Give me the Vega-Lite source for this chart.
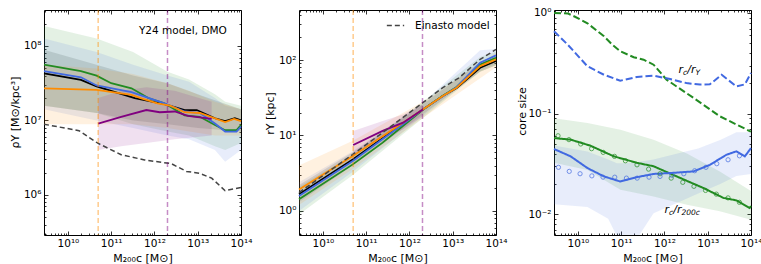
{
 "$schema": "https://vega.github.io/schema/vega-lite/v6.json",
 "padding": {"left": 8, "top": 7, "right": 0, "bottom": 0},
 "bounds": "flush",
 "spacing": 58,
 "resolve": {"scale": {"color": "independent", "strokeDash": "independent"}, "legend": {"color": "independent", "strokeDash": "independent"}},
 "config": {
  "font": "DejaVu Sans",
  "view": {"stroke": "black", "strokeWidth": 1},
  "axis": {"tickColor": "black", "labelColor": "black", "titleColor": "black", "titleFontWeight": "normal", "labelFontSize": 10.5, "titleFontSize": 11, "grid": false, "domain": false, "labelOverlap": false, "labelFlush": false, "tickWidth": 0.8, "labelBound": false}
 },
 "datasets": {
  "p1bands": [
   {"s":"black","M":2.8e9,"lo":1.58e7,"hi":8.9e7},{"s":"black","M":4.6e10,"lo":1.26e7,"hi":5.6e7},{"s":"black","M":3.2e11,"lo":1.0e7,"hi":4.0e7},{"s":"black","M":2e12,"lo":8.9e6,"hi":3.16e7},{"s":"black","M":1e13,"lo":7.9e6,"hi":2.24e7},{"s":"black","M":1e14,"lo":7.1e6,"hi":1.41e7},
   {"s":"green","M":2.8e9,"lo":1.58e7,"hi":1.86e8},{"s":"green","M":4.6e10,"lo":1.26e7,"hi":1.26e8},{"s":"green","M":3.2e11,"lo":8.9e6,"hi":8.3e7},{"s":"green","M":2e12,"lo":7.1e6,"hi":4.5e7},{"s":"green","M":6.3e12,"lo":6.3e6,"hi":3.55e7},{"s":"green","M":2.5e13,"lo":4.5e6,"hi":2.24e7},{"s":"green","M":4.3e13,"lo":4.0e6,"hi":1.78e7},{"s":"green","M":1e14,"lo":5.0e6,"hi":1.58e7},
   {"s":"blue","M":2.8e9,"lo":1.41e7,"hi":1.26e8},{"s":"blue","M":4.6e10,"lo":1.0e7,"hi":8.3e7},{"s":"blue","M":3.2e11,"lo":7.9e6,"hi":5.6e7},{"s":"blue","M":2e12,"lo":6.3e6,"hi":4.0e7},{"s":"blue","M":6.3e12,"lo":5.6e6,"hi":3.3e7},{"s":"blue","M":2.5e13,"lo":4.0e6,"hi":2.0e7},{"s":"blue","M":4.3e13,"lo":2.8e6,"hi":1.58e7},{"s":"blue","M":1e14,"lo":4.0e6,"hi":1.41e7},
   {"s":"orange","M":2.8e9,"lo":8.9e6,"hi":5.6e7},{"s":"orange","M":4.6e10,"lo":8.9e6,"hi":5.0e7},{"s":"orange","M":3.2e11,"lo":8.9e6,"hi":4.2e7},{"s":"orange","M":2e12,"lo":7.9e6,"hi":3.16e7},{"s":"orange","M":6.3e12,"lo":7.1e6,"hi":2.5e7},{"s":"orange","M":2.5e13,"lo":6.3e6,"hi":1.78e7},{"s":"orange","M":1e14,"lo":6.3e6,"hi":1.41e7},
   {"s":"purple","M":5e10,"lo":4.0e6,"hi":2.0e7},{"s":"purple","M":1.7e11,"lo":4.5e6,"hi":2.5e7},{"s":"purple","M":6.5e11,"lo":5.0e6,"hi":2.8e7},{"s":"purple","M":2.95e12,"lo":5.6e6,"hi":2.5e7},{"s":"purple","M":2.1e13,"lo":6.3e6,"hi":1.78e7}
  ],
  "p1lines": [
   {"s":"black","M":2.8e9,"v":4.3e7},{"s":"black","M":2e10,"v":3.5e7},{"s":"black","M":4.6e10,"v":2.86e7},{"s":"black","M":1e11,"v":2.5e7},{"s":"black","M":3.5e11,"v":2.0e7},{"s":"black","M":1.7e12,"v":1.66e7},{"s":"black","M":5e12,"v":1.38e7},{"s":"black","M":9.5e12,"v":1.38e7},{"s":"black","M":2.5e13,"v":1.07e7},{"s":"black","M":4.3e13,"v":9.8e6},{"s":"black","M":7.2e13,"v":1.07e7},{"s":"black","M":1e14,"v":1.0e7},
   {"s":"green","M":2.8e9,"v":5.6e7},{"s":"green","M":2e10,"v":4.6e7},{"s":"green","M":4.6e10,"v":4.0e7},{"s":"green","M":1e11,"v":3.16e7},{"s":"green","M":2.95e11,"v":2.7e7},{"s":"green","M":7.2e11,"v":2.0e7},{"s":"green","M":1.7e12,"v":1.7e7},{"s":"green","M":5e12,"v":1.17e7},{"s":"green","M":1.12e13,"v":1.12e7},{"s":"green","M":2.5e13,"v":8.7e6},{"s":"green","M":4.3e13,"v":7.4e6},{"s":"green","M":7.9e13,"v":7.4e6},{"s":"green","M":1e14,"v":8.7e6},
   {"s":"blue","M":2.8e9,"v":4.6e7},{"s":"blue","M":2e10,"v":3.8e7},{"s":"blue","M":4.6e10,"v":2.95e7},{"s":"blue","M":2.95e11,"v":2.4e7},{"s":"blue","M":1.7e12,"v":1.7e7},{"s":"blue","M":5e12,"v":1.32e7},{"s":"blue","M":1.12e13,"v":1.26e7},{"s":"blue","M":2.5e13,"v":9.1e6},{"s":"blue","M":4.3e13,"v":7.1e6},{"s":"blue","M":7.9e13,"v":7.1e6},{"s":"blue","M":1e14,"v":8.3e6},
   {"s":"orange","M":2.8e9,"v":2.7e7},{"s":"orange","M":4.6e10,"v":2.57e7},{"s":"orange","M":2.95e11,"v":2.2e7},{"s":"orange","M":4.8e11,"v":2.0e7},{"s":"orange","M":1.17e12,"v":1.7e7},{"s":"orange","M":2.3e12,"v":1.58e7},{"s":"orange","M":5e12,"v":1.29e7},{"s":"orange","M":1.12e13,"v":1.26e7},{"s":"orange","M":4.3e13,"v":9.5e6},{"s":"orange","M":6.9e13,"v":1.05e7},{"s":"orange","M":1e14,"v":9.8e6}
  ],
  "p1purple": [
   {"M":5e10,"v":9.1e6},{"M":1.7e11,"v":1.12e7},{"M":6.5e11,"v":1.38e7},{"M":1.32e12,"v":1.29e7},{"M":2.95e12,"v":1.32e7},{"M":5.9e12,"v":1.15e7},{"M":2.1e13,"v":1.05e7}
  ],
  "p1gray": [
   {"M":2.8e9,"v":8.9e6},{"M":1.8e10,"v":7.3e6},{"M":4.9e10,"v":4.95e6},{"M":1.7e11,"v":3.47e6},{"M":5.9e11,"v":2.95e6},{"M":2.45e12,"v":2.63e6},{"M":5.5e12,"v":2.07e6},{"M":1.12e13,"v":1.95e6},{"M":2.1e13,"v":1.68e6},{"M":4.3e13,"v":1.14e6},{"M":1e14,"v":1.26e6}
  ],
  "vlines": [{"s":"orange","M":5e10},{"s":"purple","M":2e12}],
  "p2bands": [
   {"s":"black","M":2.8e9,"lo":1.3,"hi":2.2},{"s":"black","M":4.9e10,"lo":4.0,"hi":6.0},{"s":"black","M":2.04e12,"lo":19,"hi":26},{"s":"black","M":4.3e13,"lo":70,"hi":95},{"s":"black","M":1e14,"lo":85,"hi":115},
   {"s":"green","M":2.8e9,"lo":0.9,"hi":2.1},{"s":"green","M":4.9e10,"lo":3.0,"hi":5.6},{"s":"green","M":2.04e12,"lo":17,"hi":28},{"s":"green","M":4.3e13,"lo":70,"hi":110},{"s":"green","M":1e14,"lo":85,"hi":130},
   {"s":"blue","M":2.8e9,"lo":1.0,"hi":2.4},{"s":"blue","M":4.9e10,"lo":3.3,"hi":6.2},{"s":"blue","M":2.04e12,"lo":18,"hi":27},{"s":"blue","M":4.3e13,"lo":72,"hi":135},{"s":"blue","M":1e14,"lo":90,"hi":140},
   {"s":"orange","M":2.8e9,"lo":1.2,"hi":4.0},{"s":"orange","M":4.9e10,"lo":3.6,"hi":8.5},{"s":"orange","M":2.04e12,"lo":17,"hi":28},{"s":"orange","M":1e14,"lo":80,"hi":125},
   {"s":"purple","M":5e10,"lo":5.5,"hi":11.5},{"s":"purple","M":2.4e11,"lo":9,"hi":15.5},{"s":"purple","M":7.1e11,"lo":12,"hi":19},{"s":"purple","M":2.04e12,"lo":18,"hi":26}
  ],
  "p2lines": [
   {"s":"black","M":2.8e9,"v":1.66},{"s":"black","M":4.9e10,"v":4.79},{"s":"black","M":2.04e12,"v":22.1},{"s":"black","M":5.9e12,"v":33.3},{"s":"black","M":1.23e13,"v":42.7},{"s":"black","M":4.3e13,"v":79},{"s":"black","M":1e14,"v":97},
   {"s":"green","M":2.8e9,"v":1.43},{"s":"green","M":4.9e10,"v":4.14},{"s":"green","M":2.4e11,"v":8.04},{"s":"green","M":2.04e12,"v":21.9},{"s":"green","M":5.9e12,"v":33.5},{"s":"green","M":1.23e13,"v":44},{"s":"green","M":4.3e13,"v":87},{"s":"green","M":1e14,"v":107},
   {"s":"blue","M":2.8e9,"v":1.58},{"s":"blue","M":4.9e10,"v":4.59},{"s":"blue","M":2.04e12,"v":22.1},{"s":"blue","M":5.9e12,"v":33},{"s":"blue","M":1.23e13,"v":43.6},{"s":"blue","M":4.3e13,"v":92},{"s":"blue","M":1e14,"v":115},
   {"s":"orange","M":2.8e9,"v":1.93},{"s":"orange","M":4.9e10,"v":5.35},{"s":"orange","M":2.04e12,"v":22.1},{"s":"orange","M":5.9e12,"v":33.3},{"s":"orange","M":1.23e13,"v":43},{"s":"orange","M":4.3e13,"v":83},{"s":"orange","M":1e14,"v":102}
  ],
  "p2purple": [
   {"M":5e10,"v":7.48},{"M":2.4e11,"v":11.5},{"M":7.1e11,"v":14.8},{"M":2.04e12,"v":22.1}
  ],
  "p2gray": [
   {"M":2.8e9,"v":1.75},{"M":4.9e10,"v":5.62},{"M":2.4e11,"v":10.9},{"M":2.04e12,"v":27.2},{"M":5.9e12,"v":43},{"M":1.4e13,"v":58.2},{"M":4.3e13,"v":102},{"M":1e14,"v":138}
  ],
  "p3bands": [
   {"s":"green","M":2.8e9,"lo":0.0324,"hi":0.09},{"s":"green","M":1.66e10,"lo":0.0275,"hi":0.0805},{"s":"green","M":9.6e10,"lo":0.0175,"hi":0.069},{"s":"green","M":5.6e11,"lo":0.015,"hi":0.055},{"s":"green","M":3.3e12,"lo":0.0124,"hi":0.04},{"s":"green","M":1.9e13,"lo":0.0107,"hi":0.0266},{"s":"green","M":1e14,"lo":0.0088,"hi":0.017},
   {"s":"blue","M":2.8e9,"lo":0.0125,"hi":0.048},{"s":"blue","M":1.66e10,"lo":0.0118,"hi":0.042},{"s":"blue","M":5e10,"lo":0.009,"hi":0.035},{"s":"blue","M":8e10,"lo":0.006,"hi":0.032},{"s":"blue","M":1.2e11,"lo":0.005,"hi":0.032},{"s":"blue","M":2.5e11,"lo":0.006,"hi":0.033},{"s":"blue","M":5.6e11,"lo":0.0102,"hi":0.035},{"s":"blue","M":2e12,"lo":0.013,"hi":0.04},{"s":"blue","M":6e12,"lo":0.016,"hi":0.045},{"s":"blue","M":2e13,"lo":0.02,"hi":0.055},{"s":"blue","M":4.6e13,"lo":0.024,"hi":0.065},{"s":"blue","M":1e14,"lo":0.025,"hi":0.065}
  ],
  "p3lines": [
   {"s":"green","k":"rY","M":2.8e9,"v":1.0},{"s":"green","k":"rY","M":5.8e9,"v":0.99},{"s":"green","k":"rY","M":8.1e9,"v":0.927},{"s":"green","k":"rY","M":1.66e10,"v":0.79},{"s":"green","k":"rY","M":4e10,"v":0.586},{"s":"green","k":"rY","M":6.2e10,"v":0.484},{"s":"green","k":"rY","M":9.5e10,"v":0.416},{"s":"green","k":"rY","M":1.95e11,"v":0.363},{"s":"green","k":"rY","M":3.3e11,"v":0.343},{"s":"green","k":"rY","M":5.6e11,"v":0.306},{"s":"green","k":"rY","M":1.12e12,"v":0.217},{"s":"green","k":"rY","M":4.7e12,"v":0.143},{"s":"green","k":"rY","M":1.9e13,"v":0.094},{"s":"green","k":"rY","M":9.3e13,"v":0.067},{"s":"green","k":"rY","M":1e14,"v":0.066},
   {"s":"blue","k":"rY","M":2.8e9,"v":0.658},{"s":"blue","k":"rY","M":5.8e9,"v":0.484},{"s":"blue","k":"rY","M":1.66e10,"v":0.295},{"s":"blue","k":"rY","M":4e10,"v":0.243},{"s":"blue","k":"rY","M":9.5e10,"v":0.212},{"s":"blue","k":"rY","M":2.3e11,"v":0.231},{"s":"blue","k":"rY","M":5.6e11,"v":0.238},{"s":"blue","k":"rY","M":1.35e12,"v":0.22},{"s":"blue","k":"rY","M":3.2e12,"v":0.201},{"s":"blue","k":"rY","M":6.6e12,"v":0.194},{"s":"blue","k":"rY","M":1.12e13,"v":0.195},{"s":"blue","k":"rY","M":2.1e13,"v":0.243},{"s":"blue","k":"rY","M":4.6e13,"v":0.186},{"s":"blue","k":"rY","M":7.2e13,"v":0.195},{"s":"blue","k":"rY","M":1e14,"v":0.253},
   {"s":"green","k":"r200","M":2.8e9,"v":0.057},{"s":"green","k":"r200","M":6.8e9,"v":0.055},{"s":"green","k":"r200","M":1.95e10,"v":0.0479},{"s":"green","k":"r200","M":6.8e10,"v":0.0375},{"s":"green","k":"r200","M":2.3e11,"v":0.0324},{"s":"green","k":"r200","M":5.6e11,"v":0.0299},{"s":"green","k":"r200","M":2.3e12,"v":0.0229},{"s":"green","k":"r200","M":7.9e12,"v":0.0182},{"s":"green","k":"r200","M":2.3e13,"v":0.0145},{"s":"green","k":"r200","M":4.6e13,"v":0.0137},{"s":"green","k":"r200","M":9.3e13,"v":0.0115},{"s":"green","k":"r200","M":1e14,"v":0.012},
   {"s":"blue","k":"r200","M":2.8e9,"v":0.0444},{"s":"blue","k":"r200","M":6.8e9,"v":0.0375},{"s":"blue","k":"r200","M":1.66e10,"v":0.0287},{"s":"blue","k":"r200","M":4e10,"v":0.0237},{"s":"blue","k":"r200","M":9.5e10,"v":0.0211},{"s":"blue","k":"r200","M":2.3e11,"v":0.0233},{"s":"blue","k":"r200","M":5.6e11,"v":0.0251},{"s":"blue","k":"r200","M":1.35e12,"v":0.0256},{"s":"blue","k":"r200","M":4.7e12,"v":0.0266},{"s":"blue","k":"r200","M":1.12e13,"v":0.0309},{"s":"blue","k":"r200","M":2.7e13,"v":0.0389},{"s":"blue","k":"r200","M":4.6e13,"v":0.0421},{"s":"blue","k":"r200","M":7.2e13,"v":0.0375},{"s":"blue","k":"r200","M":1e14,"v":0.0454}
  ],
  "p3green": [
   {"M":3.47e9,"v":0.0601},{"M":6.2e9,"v":0.055},{"M":1.16e10,"v":0.0498},{"M":2.07e10,"v":0.0447},{"M":3.84e10,"v":0.0411},{"M":7.0e10,"v":0.0375},{"M":1.25e11,"v":0.0339},{"M":2.32e11,"v":0.0309},{"M":4.3e11,"v":0.028},{"M":7.9e11,"v":0.0252},{"M":1.43e12,"v":0.0228},{"M":2.65e12,"v":0.0207},{"M":4.8e12,"v":0.0189},{"M":8.9e12,"v":0.0172},{"M":1.58e13,"v":0.0158},{"M":2.95e13,"v":0.0145},{"M":5.4e13,"v":0.0131}
  ],
  "p3blue": [
   {"M":3.55e9,"v":0.0292},{"M":6.3e9,"v":0.0266},{"M":1.12e10,"v":0.0252},{"M":2.1e10,"v":0.024},{"M":3.8e10,"v":0.0233},{"M":7.1e10,"v":0.0233},{"M":1.32e11,"v":0.0228},{"M":2.34e11,"v":0.0228},{"M":4.4e11,"v":0.0233},{"M":7.9e11,"v":0.0237},{"M":1.48e12,"v":0.0243},{"M":2.8e12,"v":0.0252},{"M":5.0e12,"v":0.027},{"M":9.1e12,"v":0.0292},{"M":1.62e13,"v":0.0317},{"M":2.95e13,"v":0.0347},{"M":5.4e13,"v":0.038}
  ]
 },
 "hconcat": [
  {
   "width": 197, "height": 225,
   "resolve": {"axis": {"x": "independent", "y": "independent"}},
   "layer": [
    {"data": {"name": "p1bands"}, "mark": {"type": "area", "opacity": 0.12, "clip": true},
     "encoding": {
      "x": {"field": "M", "type": "quantitative", "scale": {"type": "log", "domain": [2.8e9, 1e14], "nice": false},
            "axis": {"orient": "bottom", "values": [1e10, 1e11, 1e12, 1e13, 1e14], "labelExpr": "['10⁻²','10⁻¹','10⁰','10¹','10²','10³','10⁴','10⁵','10⁶','10⁷','10⁸','10⁹','10¹⁰','10¹¹','10¹²','10¹³','10¹⁴'][round(log(datum.value)/LN10)+2]", "title": "M₂₀₀c [M⊙]", "tickSize": -4, "labelPadding": 7, "minExtent": 14, "maxExtent": 14, "titlePadding": 3}},
      "y": {"field": "lo", "type": "quantitative", "scale": {"type": "log", "domain": [2.9e5, 3.04e8], "nice": false},
            "axis": {"orient": "left", "values": [1e6, 1e7, 1e8], "labelExpr": "['10⁻²','10⁻¹','10⁰','10¹','10²','10³','10⁴','10⁵','10⁶','10⁷','10⁸','10⁹','10¹⁰','10¹¹','10¹²','10¹³','10¹⁴'][round(log(datum.value)/LN10)+2]", "title": "ρY [M⊙/kpc³]", "titleY": 102, "tickSize": -4, "labelPadding": 7, "minExtent": 21, "maxExtent": 21, "titlePadding": 3}},
      "y2": {"field": "hi"},
      "color": {"field": "s", "type": "nominal", "scale": {"domain": ["black", "green", "blue", "orange", "purple"], "range": ["#000000", "#228B22", "#4169E1", "#FF8C00", "#800080"]}, "legend": null}
     }},
    {"data": {"name": "p1lines"}, "mark": {"type": "line", "strokeWidth": 1.8},
     "encoding": {
      "x": {"field": "M", "type": "quantitative", "axis": {"orient": "bottom", "values": [3e9,4e9,5e9,6e9,7e9,8e9,9e9,2e10,3e10,4e10,5e10,6e10,7e10,8e10,9e10,2e11,3e11,4e11,5e11,6e11,7e11,8e11,9e11,2e12,3e12,4e12,5e12,6e12,7e12,8e12,9e12,2e13,3e13,4e13,5e13,6e13,7e13,8e13,9e13], "labels": false, "title": null, "tickSize": -2}},
      "y": {"field": "v", "type": "quantitative", "axis": {"orient": "left", "values": [3e5,4e5,5e5,6e5,7e5,8e5,9e5,2e6,3e6,4e6,5e6,6e6,7e6,8e6,9e6,2e7,3e7,4e7,5e7,6e7,7e7,8e7,9e7,2e8], "labels": false, "title": null, "tickSize": -2}},
      "color": {"field": "s", "type": "nominal", "scale": {"domain": ["black", "green", "blue", "orange", "purple"], "range": ["#000000", "#228B22", "#4169E1", "#FF8C00", "#800080"]}, "legend": null}
     }},
    {"data": {"name": "p1purple"}, "mark": {"type": "line", "strokeWidth": 1.8, "color": "#800080"},
     "encoding": {
      "x": {"field": "M", "type": "quantitative", "axis": {"orient": "top", "values": [1e10, 1e11, 1e12, 1e13, 1e14], "labels": false, "title": null, "tickSize": -4}},
      "y": {"field": "v", "type": "quantitative", "axis": {"orient": "right", "values": [1e6, 1e7, 1e8], "labels": false, "title": null, "tickSize": -4}}
     }},
    {"data": {"name": "p1gray"}, "mark": {"type": "line", "strokeWidth": 1.5, "color": "#444444", "strokeDash": [5, 3]},
     "encoding": {
      "x": {"field": "M", "type": "quantitative", "axis": {"orient": "top", "values": [3e9,4e9,5e9,6e9,7e9,8e9,9e9,2e10,3e10,4e10,5e10,6e10,7e10,8e10,9e10,2e11,3e11,4e11,5e11,6e11,7e11,8e11,9e11,2e12,3e12,4e12,5e12,6e12,7e12,8e12,9e12,2e13,3e13,4e13,5e13,6e13,7e13,8e13,9e13], "labels": false, "title": null, "tickSize": -2}},
      "y": {"field": "v", "type": "quantitative", "axis": {"orient": "right", "values": [3e5,4e5,5e5,6e5,7e5,8e5,9e5,2e6,3e6,4e6,5e6,6e6,7e6,8e6,9e6,2e7,3e7,4e7,5e7,6e7,7e7,8e7,9e7,2e8], "labels": false, "title": null, "tickSize": -2}}
     }},
    {"data": {"name": "vlines"}, "mark": {"type": "rule", "strokeDash": [5, 3], "strokeWidth": 1.5, "opacity": 0.45},
     "encoding": {
      "x": {"field": "M", "type": "quantitative", "axis": null},
      "color": {"field": "s", "type": "nominal", "scale": {"domain": ["black", "green", "blue", "orange", "purple"], "range": ["#000000", "#228B22", "#4169E1", "#FF8C00", "#800080"]}, "legend": null}
     }},
    {"data": {"values": [{}]}, "mark": {"type": "text", "align": "right", "baseline": "middle", "fontSize": 10.5, "color": "black"},
     "encoding": {
      "x": {"datum": 4.7e13, "type": "quantitative", "axis": null},
      "y": {"datum": 1.6e8, "type": "quantitative", "axis": null},
      "text": {"value": "Y24 model, DMO"}
     }}
   ]
  },
  {
   "width": 197, "height": 225,
   "resolve": {"axis": {"x": "independent", "y": "independent"}},
   "layer": [
    {"data": {"name": "p2bands"}, "mark": {"type": "area", "opacity": 0.12, "clip": true},
     "encoding": {
      "x": {"field": "M", "type": "quantitative", "scale": {"type": "log", "domain": [2.8e9, 1e14], "nice": false},
            "axis": {"orient": "bottom", "values": [1e10, 1e11, 1e12, 1e13, 1e14], "labelExpr": "['10⁻²','10⁻¹','10⁰','10¹','10²','10³','10⁴','10⁵','10⁶','10⁷','10⁸','10⁹','10¹⁰','10¹¹','10¹²','10¹³','10¹⁴'][round(log(datum.value)/LN10)+2]", "title": "M₂₀₀c [M⊙]", "tickSize": -4, "labelPadding": 7, "minExtent": 14, "maxExtent": 14, "titlePadding": 3}},
      "y": {"field": "lo", "type": "quantitative", "scale": {"type": "log", "domain": [0.48, 460], "nice": false},
            "axis": {"orient": "left", "values": [1, 10, 100], "labelExpr": "['10⁻²','10⁻¹','10⁰','10¹','10²','10³','10⁴','10⁵','10⁶','10⁷','10⁸','10⁹','10¹⁰','10¹¹','10¹²','10¹³','10¹⁴'][round(log(datum.value)/LN10)+2]", "title": "rY [kpc]", "titleY": 103, "tickSize": -4, "labelPadding": 7, "minExtent": 21, "maxExtent": 21, "titlePadding": 3}},
      "y2": {"field": "hi"},
      "color": {"field": "s", "type": "nominal", "scale": {"domain": ["black", "green", "blue", "orange", "purple"], "range": ["#000000", "#228B22", "#4169E1", "#FF8C00", "#800080"]}, "legend": null}
     }},
    {"data": {"name": "p2lines"}, "mark": {"type": "line", "strokeWidth": 1.8},
     "encoding": {
      "x": {"field": "M", "type": "quantitative", "axis": {"orient": "bottom", "values": [3e9,4e9,5e9,6e9,7e9,8e9,9e9,2e10,3e10,4e10,5e10,6e10,7e10,8e10,9e10,2e11,3e11,4e11,5e11,6e11,7e11,8e11,9e11,2e12,3e12,4e12,5e12,6e12,7e12,8e12,9e12,2e13,3e13,4e13,5e13,6e13,7e13,8e13,9e13], "labels": false, "title": null, "tickSize": -2}},
      "y": {"field": "v", "type": "quantitative", "axis": {"orient": "left", "values": [0.5,0.6,0.7,0.8,0.9,2,3,4,5,6,7,8,9,20,30,40,50,60,70,80,90,200,300,400], "labels": false, "title": null, "tickSize": -2}},
      "color": {"field": "s", "type": "nominal", "scale": {"domain": ["black", "green", "blue", "orange", "purple"], "range": ["#000000", "#228B22", "#4169E1", "#FF8C00", "#800080"]}, "legend": null}
     }},
    {"data": {"name": "p2purple"}, "mark": {"type": "line", "strokeWidth": 1.8, "color": "#800080"},
     "encoding": {
      "x": {"field": "M", "type": "quantitative", "axis": {"orient": "top", "values": [1e10, 1e11, 1e12, 1e13, 1e14], "labels": false, "title": null, "tickSize": -4}},
      "y": {"field": "v", "type": "quantitative", "axis": {"orient": "right", "values": [1, 10, 100], "labels": false, "title": null, "tickSize": -4}}
     }},
    {"data": {"name": "p2gray"}, "mark": {"type": "line", "strokeWidth": 1.5, "color": "#444444"},
     "encoding": {
      "x": {"field": "M", "type": "quantitative", "axis": {"orient": "top", "values": [3e9,4e9,5e9,6e9,7e9,8e9,9e9,2e10,3e10,4e10,5e10,6e10,7e10,8e10,9e10,2e11,3e11,4e11,5e11,6e11,7e11,8e11,9e11,2e12,3e12,4e12,5e12,6e12,7e12,8e12,9e12,2e13,3e13,4e13,5e13,6e13,7e13,8e13,9e13], "labels": false, "title": null, "tickSize": -2}},
      "y": {"field": "v", "type": "quantitative", "axis": {"orient": "right", "values": [0.5,0.6,0.7,0.8,0.9,2,3,4,5,6,7,8,9,20,30,40,50,60,70,80,90,200,300,400], "labels": false, "title": null, "tickSize": -2}},
      "strokeDash": {"datum": "Einasto model", "scale": {"domain": ["Einasto model"], "range": [[5, 3]]},
                     "legend": {"orient": "top-right", "title": null, "symbolType": "stroke", "symbolStrokeColor": "#444444", "symbolStrokeWidth": 1.5, "symbolSize": 300, "labelFontSize": 10.5, "labelColor": "black", "offset": 6, "padding": 0, "labelOffset": 10}}
     }},
    {"data": {"name": "vlines"}, "mark": {"type": "rule", "strokeDash": [5, 3], "strokeWidth": 1.5, "opacity": 0.45},
     "encoding": {
      "x": {"field": "M", "type": "quantitative", "axis": null},
      "color": {"field": "s", "type": "nominal", "scale": {"domain": ["black", "green", "blue", "orange", "purple"], "range": ["#000000", "#228B22", "#4169E1", "#FF8C00", "#800080"]}, "legend": null}
     }}
   ]
  },
  {
   "width": 197, "height": 225,
   "resolve": {"axis": {"x": "independent", "y": "independent"}},
   "layer": [
    {"data": {"name": "p3bands"}, "mark": {"type": "area", "opacity": 0.12, "clip": true},
     "encoding": {
      "x": {"field": "M", "type": "quantitative", "scale": {"type": "log", "domain": [2.8e9, 1e14], "nice": false},
            "axis": {"orient": "bottom", "values": [1e10, 1e11, 1e12, 1e13, 1e14], "labelExpr": "['10⁻²','10⁻¹','10⁰','10¹','10²','10³','10⁴','10⁵','10⁶','10⁷','10⁸','10⁹','10¹⁰','10¹¹','10¹²','10¹³','10¹⁴'][round(log(datum.value)/LN10)+2]", "title": "M₂₀₀c [M⊙]", "tickSize": -4, "labelPadding": 7, "minExtent": 14, "maxExtent": 14, "titlePadding": 3}},
      "y": {"field": "lo", "type": "quantitative", "scale": {"type": "log", "domain": [0.0062, 1.07], "nice": false},
            "axis": {"orient": "left", "values": [0.01, 0.1, 1], "labelExpr": "['10⁻²','10⁻¹','10⁰','10¹','10²','10³','10⁴','10⁵','10⁶','10⁷','10⁸','10⁹','10¹⁰','10¹¹','10¹²','10¹³','10¹⁴'][round(log(datum.value)/LN10)+2]", "title": "core size", "titleY": 101, "tickSize": -4, "labelPadding": 7, "minExtent": 24, "maxExtent": 24, "titlePadding": 3}},
      "y2": {"field": "hi"},
      "color": {"field": "s", "type": "nominal", "scale": {"domain": ["black", "green", "blue", "orange", "purple"], "range": ["#000000", "#228B22", "#4169E1", "#FF8C00", "#800080"]}, "legend": null}
     }},
    {"data": {"name": "p3lines"}, "mark": {"type": "line", "strokeWidth": 2},
     "encoding": {
      "x": {"field": "M", "type": "quantitative", "axis": {"orient": "bottom", "values": [3e9,4e9,5e9,6e9,7e9,8e9,9e9,2e10,3e10,4e10,5e10,6e10,7e10,8e10,9e10,2e11,3e11,4e11,5e11,6e11,7e11,8e11,9e11,2e12,3e12,4e12,5e12,6e12,7e12,8e12,9e12,2e13,3e13,4e13,5e13,6e13,7e13,8e13,9e13], "labels": false, "title": null, "tickSize": -2}},
      "y": {"field": "v", "type": "quantitative", "axis": {"orient": "left", "values": [0.007,0.008,0.009,0.02,0.03,0.04,0.05,0.06,0.07,0.08,0.09,0.2,0.3,0.4,0.5,0.6,0.7,0.8,0.9], "labels": false, "title": null, "tickSize": -2}},
      "color": {"field": "s", "type": "nominal", "scale": {"domain": ["black", "green", "blue", "orange", "purple"], "range": ["#000000", "#228B22", "#4169E1", "#FF8C00", "#800080"]}, "legend": null},
      "strokeDash": {"field": "k", "type": "nominal", "scale": {"domain": ["rY", "r200"], "range": [[7, 3], [1, 0]]}, "legend": null}
     }},
    {"data": {"name": "p3green"}, "mark": {"type": "point", "filled": false, "size": 18, "strokeWidth": 1, "color": "#228B22"},
     "encoding": {
      "x": {"field": "M", "type": "quantitative", "axis": {"orient": "top", "values": [1e10, 1e11, 1e12, 1e13, 1e14], "labels": false, "title": null, "tickSize": -4}},
      "y": {"field": "v", "type": "quantitative", "axis": {"orient": "right", "values": [0.01, 0.1, 1], "labels": false, "title": null, "tickSize": -4}}
     }},
    {"data": {"name": "p3blue"}, "mark": {"type": "point", "filled": false, "size": 18, "strokeWidth": 1, "color": "#4169E1"},
     "encoding": {
      "x": {"field": "M", "type": "quantitative", "axis": {"orient": "top", "values": [3e9,4e9,5e9,6e9,7e9,8e9,9e9,2e10,3e10,4e10,5e10,6e10,7e10,8e10,9e10,2e11,3e11,4e11,5e11,6e11,7e11,8e11,9e11,2e12,3e12,4e12,5e12,6e12,7e12,8e12,9e12,2e13,3e13,4e13,5e13,6e13,7e13,8e13,9e13], "labels": false, "title": null, "tickSize": -2}},
      "y": {"field": "v", "type": "quantitative", "axis": {"orient": "right", "values": [0.007,0.008,0.009,0.02,0.03,0.04,0.05,0.06,0.07,0.08,0.09,0.2,0.3,0.4,0.5,0.6,0.7,0.8,0.9], "labels": false, "title": null, "tickSize": -2}}
     }},
    {"data": {"values": [{}]}, "mark": {"type": "text", "align": "left", "baseline": "middle", "fontSize": 11, "fontStyle": "italic", "color": "black"},
     "encoding": {"x": {"datum": 2.1e12, "type": "quantitative", "axis": null}, "y": {"datum": 0.27, "type": "quantitative", "axis": null}, "text": {"value": "r"}}},
    {"data": {"values": [{}]}, "mark": {"type": "text", "align": "left", "baseline": "middle", "fontSize": 7.5, "fontStyle": "italic", "color": "black", "dx": 4.5, "dy": 3},
     "encoding": {"x": {"datum": 2.1e12, "type": "quantitative", "axis": null}, "y": {"datum": 0.27, "type": "quantitative", "axis": null}, "text": {"value": "c"}}},
    {"data": {"values": [{}]}, "mark": {"type": "text", "align": "left", "baseline": "middle", "fontSize": 11, "fontStyle": "italic", "color": "black", "dx": 8.8},
     "encoding": {"x": {"datum": 2.1e12, "type": "quantitative", "axis": null}, "y": {"datum": 0.27, "type": "quantitative", "axis": null}, "text": {"value": "/r"}}},
    {"data": {"values": [{}]}, "mark": {"type": "text", "align": "left", "baseline": "middle", "fontSize": 7.5, "fontStyle": "italic", "color": "black", "dx": 17, "dy": 3},
     "encoding": {"x": {"datum": 2.1e12, "type": "quantitative", "axis": null}, "y": {"datum": 0.27, "type": "quantitative", "axis": null}, "text": {"value": "Y"}}},
    {"data": {"values": [{}]}, "mark": {"type": "text", "align": "left", "baseline": "middle", "fontSize": 11, "fontStyle": "italic", "color": "black"},
     "encoding": {"x": {"datum": 1e12, "type": "quantitative", "axis": null}, "y": {"datum": 0.011, "type": "quantitative", "axis": null}, "text": {"value": "r"}}},
    {"data": {"values": [{}]}, "mark": {"type": "text", "align": "left", "baseline": "middle", "fontSize": 7.5, "fontStyle": "italic", "color": "black", "dx": 4.5, "dy": 3},
     "encoding": {"x": {"datum": 1e12, "type": "quantitative", "axis": null}, "y": {"datum": 0.011, "type": "quantitative", "axis": null}, "text": {"value": "c"}}},
    {"data": {"values": [{}]}, "mark": {"type": "text", "align": "left", "baseline": "middle", "fontSize": 11, "fontStyle": "italic", "color": "black", "dx": 8.8},
     "encoding": {"x": {"datum": 1e12, "type": "quantitative", "axis": null}, "y": {"datum": 0.011, "type": "quantitative", "axis": null}, "text": {"value": "/r"}}},
    {"data": {"values": [{}]}, "mark": {"type": "text", "align": "left", "baseline": "middle", "fontSize": 7.5, "fontStyle": "italic", "color": "black", "dx": 17, "dy": 3},
     "encoding": {"x": {"datum": 1e12, "type": "quantitative", "axis": null}, "y": {"datum": 0.011, "type": "quantitative", "axis": null}, "text": {"value": "200c"}}}
   ]
  }
 ]
}
